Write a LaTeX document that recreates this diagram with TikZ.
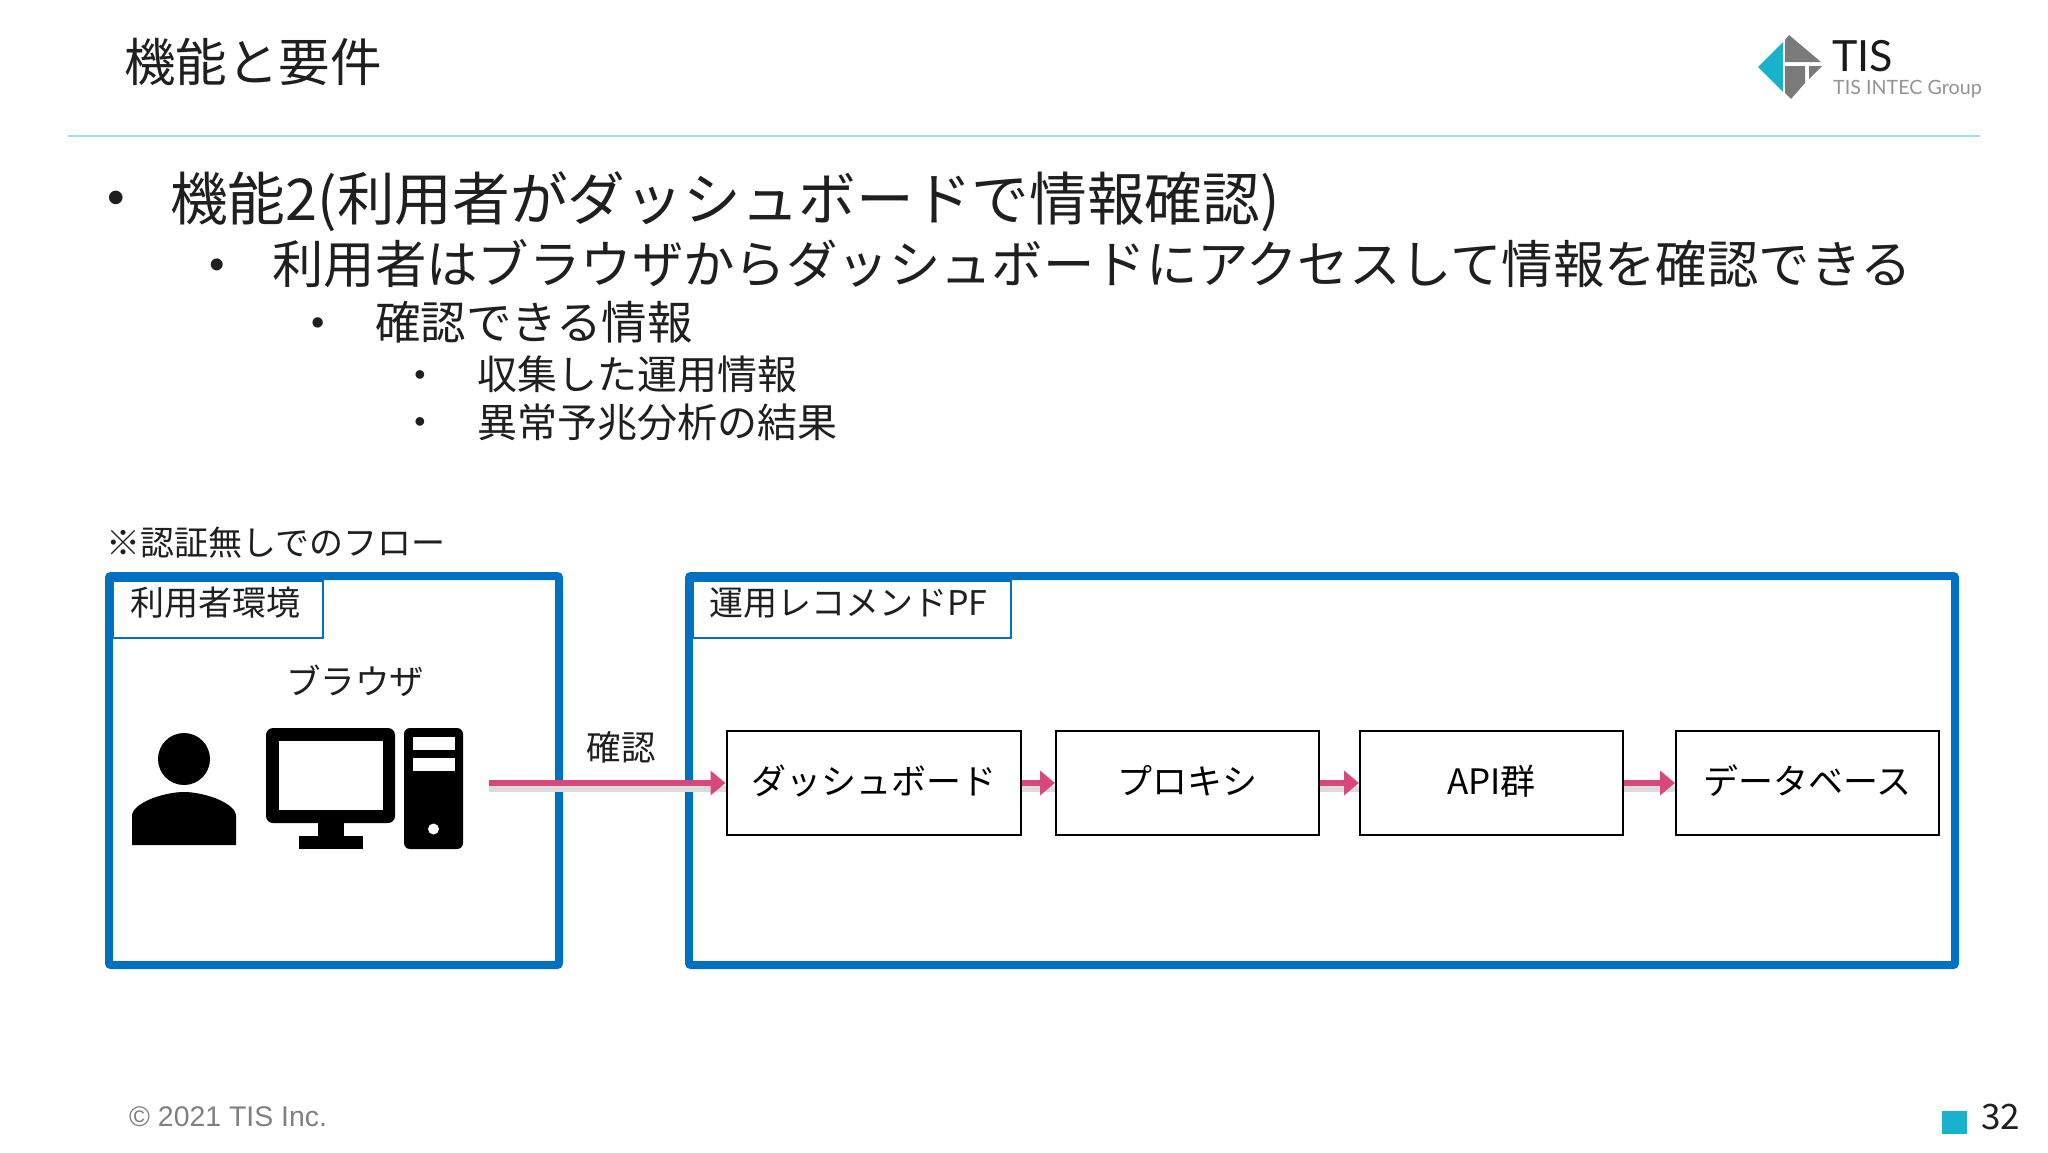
\documentclass[tikz,border=0pt]{standalone}
\usepackage{fontspec}
\usepackage[HTML]{xcolor}
\setmainfont{Noto Sans CJK JP}
\newfontfamily\latinfont{Liberation Sans}
\newfontfamily\logofont{Lato}
\usetikzlibrary{positioning, arrows, arrows.meta}
\definecolor{frameblue}{HTML}{0070C0}
\definecolor{ruleblue}{HTML}{A5DCE8}
\definecolor{tealmark}{HTML}{19B2CC}
\definecolor{flowpink}{HTML}{D9487A}
\newcommand{\fsize}[1]{\fontsize{#1}{#1}\selectfont}
\tikzset{
  txt/.style={anchor=west, inner sep=0pt, text=black!88},
  dot/.style={inner sep=0pt, text=black!88, font=\latinfont\fsize{#1}},
  frame/.style={draw=frameblue, line width=8pt, rounded corners=2pt, inner sep=0pt},
  tabbox/.style={draw=frameblue, line width=2pt, fill=white, inner sep=0pt, anchor=north west},
  flowbox/.style={draw=black, line width=2pt, fill=white, minimum height=104pt, inner sep=0pt, font=\fsize{35}},
  flow/.style={draw=flowpink, line width=6pt, -{Triangle[length=15pt,width=24pt]},
    preaction={draw=black!14, line width=6pt, -, transform canvas={yshift=-6pt}}},
}
\begin{document}
\begin{tikzpicture}[x=1pt,y=-1pt]
\useasboundingbox (0,0) rectangle (2048,1152);
% header
\node[txt, font=\fsize{51.5}] (title) at (124,62) {機能と要件};
\coordinate (ruleleft) at (68,136);
\coordinate (ruleright) at (1980,136);
\draw[ruleblue, line width=1.6pt] (ruleleft) -- (ruleright);
% logo
\fill[tealmark] (1758,67) -- (1783,42) -- (1783,92) -- cycle;
\fill[black!52] (1785,40) -- (1789,35) -- (1821,62) -- (1785,62) -- cycle;
\fill[black!52] (1785,66) -- (1805,66) -- (1805,83) -- (1791,99) -- (1785,93) -- cycle;
\fill[black!52] (1809,66) -- (1822,66) -- (1809,79) -- cycle;
\node[txt, font=\logofont\fsize{43}, text=black!90] (logoname) at (1832,56) {TIS};
\node[txt, font=\logofont\fsize{19.7}, text=black!42] (logogroup) at (1833,89) {TIS INTEC Group};
% bullets
\node[dot=50] (b1) at (116,203) {•};
\node[txt, font=\fsize{57.7}] (t1) at (170,202) {機能2(利用者がダッシュボードで情報確認)};
\node[dot=44] (b2) at (217,269) {•};
\node[txt, font=\fsize{51.4}] (t2) at (272,264) {利用者はブラウザからダッシュボードにアクセスして情報を確認できる};
\node[dot=38] (b3) at (318,327) {•};
\node[txt, font=\fsize{45.5}] (t3) at (375,322) {確認できる情報};
\node[dot=32] (b4) at (420,378) {•};
\node[txt, font=\fsize{40}] (t4) at (477,374) {収集した運用情報};
\node[dot=32] (b5) at (420,425) {•};
\node[txt, font=\fsize{40}] (t5) at (477,422) {異常予兆分析の結果};
\node[txt, font=\fsize{34}] (note) at (106,543) {※認証無しでのフロー};
% frames
\node[frame, minimum width=450pt, minimum height=389pt] (userenv) at (334,770.5) {};
\node[frame, minimum width=1266pt, minimum height=389pt] (pfenv) at (1322,770.5) {};
\node[tabbox, minimum width=210pt, minimum height=57pt] (usertab) at (112,580) {};
\node[tabbox, minimum width=318pt, minimum height=57pt] (pftab) at (692,580) {};
\node[txt, font=\fsize{34}] (usertxt) at (130,603) {利用者環境};
\node[txt, font=\fsize{34}] (pftxt) at (709,603) {運用レコメンドPF};
\node[font=\fsize{34.5}, inner sep=0pt, text=black!88] (browser) at (355,681) {ブラウザ};
% person
\fill (184,759) ellipse [x radius=26, y radius=26];
\fill (132,845) -- (132,815) .. controls (134,802) and (165,792) .. (184,792)
  .. controls (203,792) and (234,802) .. (236,815) -- (236,845) -- cycle;
% computer
\fill[rounded corners=7pt, even odd rule] (266,728) rectangle (395,823);
\fill[white] (279,741) rectangle (383,810);
\fill (318,823) rectangle (344,836);
\fill (299,836) rectangle (363,849);
\fill[rounded corners=6pt] (404,728) rectangle (463,849);
\fill[white] (413,737) rectangle (455,750);
\fill[white] (413,758) rectangle (455,771);
\fill[white] (433.5,829) circle (5.5);
% flow
\node[flowbox, minimum width=294pt] (dash) at (873.5,783) {\raisebox{6pt}{ダッシュボード}};
\node[flowbox, minimum width=263pt] (proxy) at (1187.5,783) {\raisebox{6pt}{プロキシ}};
\node[flowbox, minimum width=263pt] (api) at (1491.5,783) {\raisebox{6pt}{API群}};
\node[flowbox, minimum width=263pt] (db) at (1807.5,783) {\raisebox{6pt}{データベース}};
\coordinate (browserout) at (489,783);
\draw[flow] (browserout) -- (dash.west);
\foreach \a/\b in {dash/proxy, proxy/api, api/db}
  \draw[flow] (\a.east) -- (\b.west);
\node[font=\fsize{34.5}, inner sep=0pt, text=black!88] (check) at (621,747) {確認};
% footer
\node[txt, font=\latinfont\fsize{28.4}, text=black!50] (copyright) at (129,1117) {© 2021 TIS Inc.};
\fill[tealmark] (1942,1111) rectangle (1967,1134);
\node[txt, font=\fsize{35}] (page) at (1981,1117) {32};
\end{tikzpicture}
\end{document}
